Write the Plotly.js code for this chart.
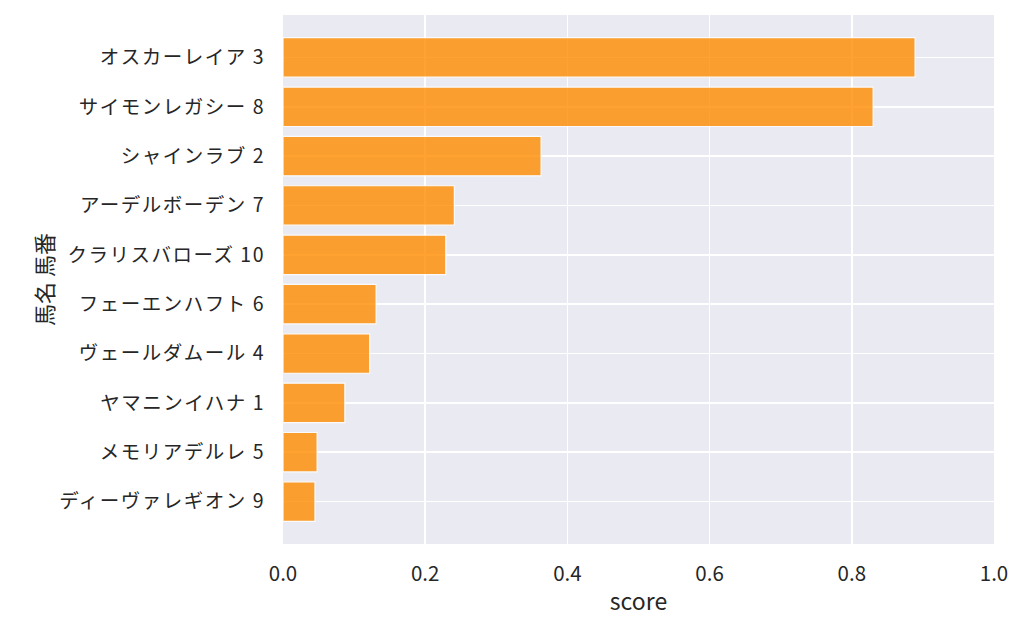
<!DOCTYPE html>
<html><head><meta charset="utf-8">
<script src="https://cdn.plot.ly/plotly-3.0.1.min.js"></script>
<style>
html,body{margin:0;padding:0;background:#fff;}
#chart{width:1024px;height:634px;}
#chart .ytick text{letter-spacing:1.5px;}
</style>
</head><body><div id="chart"></div>
<script>
const horses = ["オスカーレイア 3","サイモンレガシー 8","シャインラブ 2","アーデルボーデン 7","クラリスバローズ 10","フェーエンハフト 6","ヴェールダムール 4","ヤマニンイハナ 1","メモリアデルレ 5","ディーヴァレギオン 9"];
const scores = [0.889, 0.830, 0.363, 0.241, 0.229, 0.131, 0.122, 0.087, 0.048, 0.045];
const xTicks = [0, 0.2, 0.4, 0.6, 0.8, 1.0];
const xTickText = ["0.0","0.2","0.4","0.6","0.8","1.0"];
const xTitle = "score";
const yTitle = "馬名 馬番";

const font = "'Noto Sans CJK JP', 'Noto Sans', sans-serif";
Plotly.newPlot("chart", [{
  type: "bar", orientation: "h",
  x: scores, y: horses,
  marker: {color: "#ff8c00", line: {color: "#ffffff", width: 1.2}},
  opacity: 0.8,
  hoverinfo: "x+y"
}], {
  width: 1024, height: 634,
  margin: {l: 282.5, r: 30.3, t: 15, b: 90},
  paper_bgcolor: "#ffffff", plot_bgcolor: "#eaeaf2",
  bargap: 0.2,
  font: {family: font, color: "#262626", size: 19},
  xaxis: {
    range: [0, 1], tickvals: xTicks, ticktext: xTickText,
    showgrid: true, gridcolor: "#ffffff", gridwidth: 1.8,
    zeroline: false, showline: false, ticks: "", ticklen: 0,
    ticklabelstandoff: 15,
    tickfont: {size: 20.5, color: "#262626"},
    title: {text: xTitle, font: {size: 23, color: "#262626"}, standoff: 8}
  },
  yaxis: {
    type: "category", categoryorder: "array", categoryarray: horses,
    range: [9.86, -0.86],
    showgrid: true, gridcolor: "#ffffff", gridwidth: 1.8,
    zeroline: false, showline: false, ticks: "", ticklen: 0,
    ticklabelstandoff: 17,
    tickfont: {size: 19.5, color: "#262626"}
  },
  annotations: [{
    text: yTitle, xref: "paper", yref: "paper", x: 0, y: 0.5,
    xanchor: "center", yanchor: "middle", xshift: -240.5, textangle: -90,
    showarrow: false, font: {size: 22, color: "#262626", family: font}
  }],
  showlegend: false
}, {displayModeBar: false, staticPlot: true});
</script></body></html>
